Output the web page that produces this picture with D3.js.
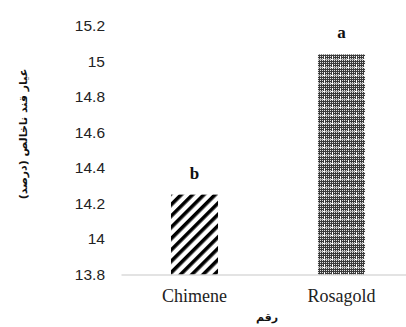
<!DOCTYPE html>
<html>
<head>
<meta charset="utf-8">
<script src="https://cdn.jsdelivr.net/npm/d3@7"></script>
<style>
  body { margin: 0; background: #fff; }
  svg { display: block; }
</style>
</head>
<body>
<div id="chart"></div>
<script>
// chart values
const categories = ["Chimene", "Rosagold"];
const values = [14.25, 15.04];
const letters = ["b", "a"];
const yTicks = [13.8, 14, 14.2, 14.4, 14.6, 14.8, 15, 15.2];
const yTitle = "عیار قند ناخالص (درصد)";
const xTitle = "رقم";

const width = 406, height = 327;

const svg = d3.select("#chart").append("svg")
  .attr("width", width)
  .attr("height", height);

const defs = svg.append("defs");

// diagonal stripes for the first bar
const stripes = defs.append("pattern")
  .attr("id", "stripes")
  .attr("patternUnits", "userSpaceOnUse")
  .attr("width", 8)
  .attr("height", 8)
  .attr("patternTransform", "rotate(-45)");
stripes.append("rect").attr("width", 8).attr("height", 8).attr("fill", "#fff");
stripes.append("rect").attr("x", 0).attr("y", 0).attr("width", 8).attr("height", 3.6).attr("fill", "#000");

// dotted checker for the second bar
const dots = defs.append("pattern")
  .attr("id", "dots")
  .attr("patternUnits", "userSpaceOnUse")
  .attr("width", 8)
  .attr("height", 8);
dots.append("rect").attr("width", 8).attr("height", 8).attr("fill", "#3a3a3a");
for (let i = 0; i < 8; i += 2) {
  for (let j = 0; j < 8; j += 2) {
    dots.append("rect").attr("x", i).attr("y", j).attr("width", 1).attr("height", 1).attr("fill", "#e0e0e0");
  }
}
dots.append("rect").attr("x", 0).attr("y", 3).attr("width", 8).attr("height", 1).attr("fill", "#aaa");
dots.append("rect").attr("x", 3).attr("y", 3).attr("width", 2).attr("height", 1).attr("fill", "#fff");
dots.append("rect").attr("x", 4).attr("y", 0).attr("width", 1).attr("height", 2).attr("fill", "#fff");

const patterns = ["url(#stripes)", "url(#dots)"];

const x = d3.scaleBand()
  .domain(categories)
  .range([121, 415])
  .paddingInner(0.68)
  .paddingOuter(0.34);

const y = d3.scaleLinear()
  .domain([13.8, 15.2])
  .range([274.5, 26]);

// y tick labels (no axis line)
const yAxis = svg.append("g")
  .attr("transform", "translate(105,0)")
  .call(d3.axisLeft(y).tickValues(yTicks).tickSize(0).tickPadding(0)
    .tickFormat(d => d3.format("")(+d.toFixed(1))));
yAxis.select(".domain").remove();
yAxis.selectAll("text")
  .attr("font-family", "'Liberation Sans', Arial, sans-serif")
  .attr("font-size", 15.5)
  .attr("fill", "#222");

// bars
svg.append("g").selectAll("rect")
  .data(categories)
  .join("rect")
  .attr("x", d => x(d))
  .attr("y", (d, i) => y(values[i]))
  .attr("width", x.bandwidth())
  .attr("height", (d, i) => y(13.8) - y(values[i]))
  .attr("fill", (d, i) => patterns[i]);

// significance letters
svg.append("g").selectAll("text")
  .data(categories)
  .join("text")
  .attr("x", d => x(d) + x.bandwidth() / 2)
  .attr("y", (d, i) => y(values[i]) - 16)
  .attr("text-anchor", "middle")
  .attr("font-family", "'Liberation Serif', 'Times New Roman', serif")
  .attr("font-weight", "bold")
  .attr("font-size", 17)
  .attr("fill", "#111")
  .text((d, i) => letters[i]);

// x axis
const xAxis = svg.append("g")
  .attr("transform", `translate(0,${y(13.8)})`)
  .call(d3.axisBottom(x).tickSize(0).tickPadding(15));
xAxis.select(".domain")
  .attr("stroke", "#c8c8c8")
  .attr("stroke-width", 1.2);
xAxis.selectAll("text")
  .attr("font-family", "'Liberation Serif', 'Times New Roman', serif")
  .attr("font-size", 18)
  .attr("fill", "#222");

// axis titles
svg.append("text")
  .attr("transform", "translate(23,134) rotate(-90)")
  .attr("text-anchor", "middle")
  .attr("dominant-baseline", "central")
  .attr("font-family", "'DejaVu Sans', 'Noto Sans', sans-serif")
  .attr("font-weight", "bold")
  .attr("font-size", 11)
  .attr("fill", "#111")
  .text(yTitle);

svg.append("text")
  .attr("x", 267)
  .attr("y", 317)
  .attr("text-anchor", "middle")
  .attr("dominant-baseline", "central")
  .attr("font-family", "'DejaVu Sans', 'Noto Sans', sans-serif")
  .attr("font-weight", "bold")
  .attr("font-size", 11)
  .attr("fill", "#111")
  .text(xTitle);
</script>
</body>
</html>
